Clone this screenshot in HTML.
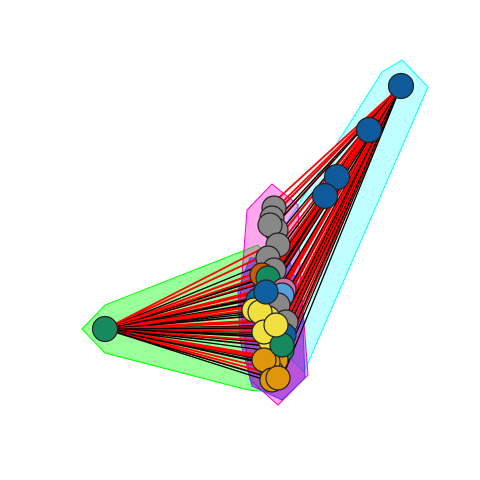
<!DOCTYPE html>
<html><head><meta charset="utf-8"><style>body{margin:0;background:#fff}svg{display:block}</style></head>
<body>
<svg width="480" height="480" viewBox="0 0 480 480">
<g>
<polygon points="402,60 428,87 304,372 262,330 262,262 382,72" fill="#00ffff" fill-opacity="0.25" stroke="#00ffff"/>
<polygon points="82,329 105,305 258,245 270,260 272,392 248,390 105,353" fill="#00ff00" fill-opacity="0.4" stroke="#00ff00"/>
<polygon points="247,210 272,184 298,205 300,270 308,375 278,405 250,380 240,300" fill="#ff00cc" fill-opacity="0.35" stroke="#ff00cc"/>
<polygon points="238,290 250,258 288,256 302,300 305,378 282,400 252,386 240,340" fill="#7700cc" fill-opacity="0.5" stroke="#4444ff"/>
</g>
<g id="edges"></g>
<g id="nodes"></g>
</svg>
<script>
const nodeX=[401,369,337,325,105,274,272,276,270,278,268,274,266,270,262,268,284,282,258,254,278,268,286,274,260,270,284,264,282,276,272,268,264,272,278,282,266,276];
const nodeY=[86,130,177,196,329,208,218,230,225,245,258,270,285,300,275,278,290,295,300,310,305,318,322,330,312,340,335,332,350,360,372,362,360,380,378,345,292,325];
const nodeColor=["#0e5a9a","#0e5a9a","#0e5a9a","#0e5a9a","#158a5e","#888","#888","#888","#888","#888","#888","#888","#c85a0a","#158a5e","#c85a0a","#158a5e","#d070a0","#58a0dd","#1060a0","#f0e040","#888","#f0e040","#888","#d070a0","#f0e040","#f0e040","#1060a0","#f0e040","#158a5e","#e0960a","#e0960a","#e0960a","#e0960a","#e0960a","#e0960a","#158a5e","#1060a0","#f0e040"];
const hubs=[0,4];
const ns="http://www.w3.org/2000/svg";
const eg=document.getElementById('edges'),ng=document.getElementById('nodes');
for(const h of hubs){for(let i=5;i<nodeX.length;i++){
if(h==4 && nodeY[i]<255 && i!=9) continue;
for(const c of ["#f00","#000"]){
const l=document.createElementNS(ns,'line');


const d=c=="#000"?3:-3;
l.setAttribute('x1',nodeX[h]);l.setAttribute('y1',nodeY[h]);l.setAttribute('x2',nodeX[i]+d);l.setAttribute('y2',nodeY[i]+d);
l.setAttribute('stroke',c);l.setAttribute('stroke-width',c=="#f00"?1.8:1.3);eg.appendChild(l);}}}
for(let i=1;i<4;i++){const l=document.createElementNS(ns,'line');


l.setAttribute('x1',nodeX[0]);l.setAttribute('y1',nodeY[0]);l.setAttribute('x2',nodeX[i]);l.setAttribute('y2',nodeY[i]);l.setAttribute('stroke','#f00');eg.appendChild(l);}
for(let i=0;i<nodeX.length;i++){const c=document.createElementNS(ns,'circle');


c.setAttribute('cx',nodeX[i]);c.setAttribute('cy',nodeY[i]);c.setAttribute('r',i<5?12.5:12);
c.setAttribute('fill',nodeColor[i]);c.setAttribute('stroke','#222');c.setAttribute('stroke-width',1.2);ng.appendChild(c);}
</script>
</body></html>
